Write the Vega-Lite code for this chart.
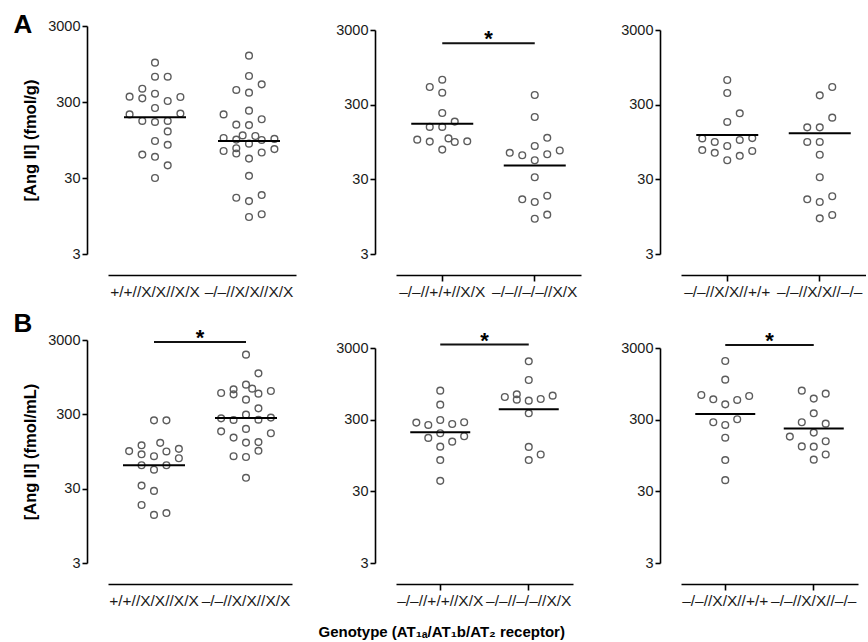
{
"$schema": "https://vega.github.io/schema/vega-lite/v6.json",
"background": "white",
"padding": {"left": 13, "top": 11, "right": 0, "bottom": 0},
"config": {
  "view": {"stroke": null},
  "font": "Liberation Sans",
  "axis": {"domainColor": "#000", "domainWidth": 1.6, "tickColor": "#000", "tickWidth": 1.6, "labelColor": "#1a1a1a", "labelFont": "Liberation Sans", "titleFont": "Liberation Sans", "titleColor": "#000", "titleFontWeight": "bold", "grid": false}
},
"datasets": {
  "a1": [
    {"g":"+/+//X/X//X/X","s":0,"v":988},{"g":"+/+//X/X//X/X","s":0,"v":646},{"g":"+/+//X/X//X/X","s":1,"v":646},{"g":"+/+//X/X//X/X","s":-1,"v":449},{"g":"+/+//X/X//X/X","s":-2,"v":353},{"g":"+/+//X/X//X/X","s":-1,"v":335},{"g":"+/+//X/X//X/X","s":0,"v":386},{"g":"+/+//X/X//X/X","s":1,"v":309},{"g":"+/+//X/X//X/X","s":2,"v":349},{"g":"+/+//X/X//X/X","s":0,"v":250},{"g":"+/+//X/X//X/X","s":-2,"v":206},{"g":"+/+//X/X//X/X","s":2,"v":211},{"g":"+/+//X/X//X/X","s":-1,"v":169},{"g":"+/+//X/X//X/X","s":0,"v":164},{"g":"+/+//X/X//X/X","s":1,"v":169},{"g":"+/+//X/X//X/X","s":1,"v":123},{"g":"+/+//X/X//X/X","s":0,"v":92},{"g":"+/+//X/X//X/X","s":1,"v":82},{"g":"+/+//X/X//X/X","s":-1,"v":61},{"g":"+/+//X/X//X/X","s":0,"v":57},{"g":"+/+//X/X//X/X","s":1,"v":44},{"g":"+/+//X/X//X/X","s":0,"v":30},
    {"g":"–/–//X/X//X/X","s":0,"v":1221},{"g":"–/–//X/X//X/X","s":0,"v":659},{"g":"–/–//X/X//X/X","s":1,"v":512},{"g":"–/–//X/X//X/X","s":-1,"v":432},{"g":"–/–//X/X//X/X","s":0,"v":398},{"g":"–/–//X/X//X/X","s":-2,"v":206},{"g":"–/–//X/X//X/X","s":0,"v":231},{"g":"–/–//X/X//X/X","s":-1,"v":151},{"g":"–/–//X/X//X/X","s":0,"v":149},{"g":"–/–//X/X//X/X","s":1,"v":178},{"g":"–/–//X/X//X/X","s":-2,"v":101},{"g":"–/–//X/X//X/X","s":-1,"v":96},{"g":"–/–//X/X//X/X","s":-0.5,"v":109},{"g":"–/–//X/X//X/X","s":0.5,"v":107},{"g":"–/–//X/X//X/X","s":1,"v":95},{"g":"–/–//X/X//X/X","s":2,"v":98},{"g":"–/–//X/X//X/X","s":0,"v":85},{"g":"–/–//X/X//X/X","s":-1,"v":74},{"g":"–/–//X/X//X/X","s":-2,"v":68},{"g":"–/–//X/X//X/X","s":-1,"v":63},{"g":"–/–//X/X//X/X","s":1,"v":65},{"g":"–/–//X/X//X/X","s":2,"v":72},{"g":"–/–//X/X//X/X","s":0,"v":54},{"g":"–/–//X/X//X/X","s":0,"v":32},{"g":"–/–//X/X//X/X","s":-1,"v":16.5},{"g":"–/–//X/X//X/X","s":0,"v":14.9},{"g":"–/–//X/X//X/X","s":1,"v":17.9},{"g":"–/–//X/X//X/X","s":0,"v":9.2},{"g":"–/–//X/X//X/X","s":1,"v":10}
  ],
  "a1m": [{"g":"+/+//X/X//X/X","v":189},{"g":"–/–//X/X//X/X","v":92}],
  "a2": [
    {"g":"–/–//+/+//X/X","s":0,"v":648},{"g":"–/–//+/+//X/X","s":-1,"v":517},{"g":"–/–//+/+//X/X","s":0,"v":434},{"g":"–/–//+/+//X/X","s":0,"v":232},{"g":"–/–//+/+//X/X","s":1,"v":178},{"g":"–/–//+/+//X/X","s":-1,"v":151},{"g":"–/–//+/+//X/X","s":0,"v":151},{"g":"–/–//+/+//X/X","s":-2,"v":102},{"g":"–/–//+/+//X/X","s":-1,"v":96},{"g":"–/–//+/+//X/X","s":0.5,"v":106},{"g":"–/–//+/+//X/X","s":1,"v":95},{"g":"–/–//+/+//X/X","s":2,"v":97},{"g":"–/–//+/+//X/X","s":0,"v":75},
    {"g":"–/–//–/–//X/X","s":0,"v":404},{"g":"–/–//–/–//X/X","s":0,"v":205},{"g":"–/–//–/–//X/X","s":1,"v":108},{"g":"–/–//–/–//X/X","s":0,"v":84},{"g":"–/–//–/–//X/X","s":-2,"v":68},{"g":"–/–//–/–//X/X","s":-1,"v":63},{"g":"–/–//–/–//X/X","s":1,"v":65},{"g":"–/–//–/–//X/X","s":2,"v":73},{"g":"–/–//–/–//X/X","s":0,"v":54},{"g":"–/–//–/–//X/X","s":0,"v":32},{"g":"–/–//–/–//X/X","s":-1,"v":16.2},{"g":"–/–//–/–//X/X","s":0,"v":14.9},{"g":"–/–//–/–//X/X","s":1,"v":18.1},{"g":"–/–//–/–//X/X","s":0,"v":8.9},{"g":"–/–//–/–//X/X","s":1,"v":10.1}
  ],
  "a2m": [{"g":"–/–//+/+//X/X","v":167},{"g":"–/–//–/–//X/X","v":46}],
  "a2s": [{"g1":"–/–//+/+//X/X","g2":"–/–//–/–//X/X","v":2000,"t":"*"}],
  "a3": [
    {"g":"–/–//X/X//+/+","s":0,"v":642},{"g":"–/–//X/X//+/+","s":0,"v":430},{"g":"–/–//X/X//+/+","s":1,"v":230},{"g":"–/–//X/X//+/+","s":0,"v":176},{"g":"–/–//X/X//+/+","s":-2,"v":106},{"g":"–/–//X/X//+/+","s":-1,"v":95},{"g":"–/–//X/X//+/+","s":1,"v":101},{"g":"–/–//X/X//+/+","s":2,"v":107},{"g":"–/–//X/X//+/+","s":-2,"v":74},{"g":"–/–//X/X//+/+","s":-1,"v":68},{"g":"–/–//X/X//+/+","s":0,"v":84},{"g":"–/–//X/X//+/+","s":1,"v":62},{"g":"–/–//X/X//+/+","s":2,"v":72},{"g":"–/–//X/X//+/+","s":0,"v":54},
    {"g":"–/–//X/X//–/–","s":1,"v":517},{"g":"–/–//X/X//–/–","s":0,"v":400},{"g":"–/–//X/X//–/–","s":1,"v":201},{"g":"–/–//X/X//–/–","s":-1,"v":149},{"g":"–/–//X/X//–/–","s":0,"v":149},{"g":"–/–//X/X//–/–","s":-1,"v":95},{"g":"–/–//X/X//–/–","s":0,"v":95},{"g":"–/–//X/X//–/–","s":0,"v":64},{"g":"–/–//X/X//–/–","s":0,"v":32},{"g":"–/–//X/X//–/–","s":-1,"v":16.2},{"g":"–/–//X/X//–/–","s":0,"v":14.9},{"g":"–/–//X/X//–/–","s":1,"v":17.8},{"g":"–/–//X/X//–/–","s":0,"v":9},{"g":"–/–//X/X//–/–","s":1,"v":10}
  ],
  "a3m": [{"g":"–/–//X/X//+/+","v":118},{"g":"–/–//X/X//–/–","v":124}],
  "b1": [
    {"g":"+/+//X/X//X/X","s":0,"v":249},{"g":"+/+//X/X//X/X","s":1,"v":249},{"g":"+/+//X/X//X/X","s":-2,"v":96},{"g":"+/+//X/X//X/X","s":-1,"v":115},{"g":"+/+//X/X//X/X","s":-1,"v":87},{"g":"+/+//X/X//X/X","s":0,"v":82},{"g":"+/+//X/X//X/X","s":0.5,"v":124},{"g":"+/+//X/X//X/X","s":1,"v":95},{"g":"+/+//X/X//X/X","s":2,"v":103},{"g":"+/+//X/X//X/X","s":2,"v":77},{"g":"+/+//X/X//X/X","s":-1,"v":62},{"g":"+/+//X/X//X/X","s":0,"v":54},{"g":"+/+//X/X//X/X","s":1,"v":62},{"g":"+/+//X/X//X/X","s":-1,"v":33},{"g":"+/+//X/X//X/X","s":0,"v":28},{"g":"+/+//X/X//X/X","s":-1,"v":18.1},{"g":"+/+//X/X//X/X","s":0,"v":13.3},{"g":"+/+//X/X//X/X","s":1,"v":14.1},
    {"g":"–/–//X/X//X/X","s":0,"v":1905},{"g":"–/–//X/X//X/X","s":1,"v":1068},{"g":"–/–//X/X//X/X","s":0,"v":752},{"g":"–/–//X/X//X/X","s":-1,"v":651},{"g":"–/–//X/X//X/X","s":-1,"v":557},{"g":"–/–//X/X//X/X","s":0.5,"v":665},{"g":"–/–//X/X//X/X","s":1,"v":569},{"g":"–/–//X/X//X/X","s":-2,"v":581},{"g":"–/–//X/X//X/X","s":2,"v":618},{"g":"–/–//X/X//X/X","s":0,"v":473},{"g":"–/–//X/X//X/X","s":1,"v":361},{"g":"–/–//X/X//X/X","s":-2,"v":265},{"g":"–/–//X/X//X/X","s":-1,"v":252},{"g":"–/–//X/X//X/X","s":0,"v":297},{"g":"–/–//X/X//X/X","s":1,"v":254},{"g":"–/–//X/X//X/X","s":2,"v":271},{"g":"–/–//X/X//X/X","s":-2,"v":177},{"g":"–/–//X/X//X/X","s":0,"v":191},{"g":"–/–//X/X//X/X","s":2,"v":167},{"g":"–/–//X/X//X/X","s":-1,"v":146},{"g":"–/–//X/X//X/X","s":1,"v":127},{"g":"–/–//X/X//X/X","s":0,"v":125},{"g":"–/–//X/X//X/X","s":1,"v":97},{"g":"–/–//X/X//X/X","s":-1,"v":82},{"g":"–/–//X/X//X/X","s":0,"v":80},{"g":"–/–//X/X//X/X","s":0,"v":42}
  ],
  "b1m": [{"g":"+/+//X/X//X/X","v":62},{"g":"–/–//X/X//X/X","v":268}],
  "b1s": [{"g1":"+/+//X/X//X/X","g2":"–/–//X/X//X/X","v":2820,"t":"*"}],
  "b2": [
    {"g":"–/–//+/+//X/X","s":0,"v":762},{"g":"–/–//+/+//X/X","s":0,"v":486},{"g":"–/–//+/+//X/X","s":-2,"v":273},{"g":"–/–//+/+//X/X","s":-1,"v":253},{"g":"–/–//+/+//X/X","s":0,"v":297},{"g":"–/–//+/+//X/X","s":1,"v":261},{"g":"–/–//+/+//X/X","s":2,"v":276},{"g":"–/–//+/+//X/X","s":0,"v":194},{"g":"–/–//+/+//X/X","s":-1,"v":167},{"g":"–/–//+/+//X/X","s":1,"v":148},{"g":"–/–//+/+//X/X","s":2,"v":176},{"g":"–/–//+/+//X/X","s":0,"v":126},{"g":"–/–//+/+//X/X","s":0,"v":82},{"g":"–/–//+/+//X/X","s":0,"v":42},
    {"g":"–/–//–/–//X/X","s":0,"v":1956},{"g":"–/–//–/–//X/X","s":0,"v":1074},{"g":"–/–//–/–//X/X","s":-2,"v":622},{"g":"–/–//–/–//X/X","s":-1,"v":678},{"g":"–/–//–/–//X/X","s":-1,"v":571},{"g":"–/–//–/–//X/X","s":0,"v":553},{"g":"–/–//–/–//X/X","s":1,"v":583},{"g":"–/–//–/–//X/X","s":2,"v":649},{"g":"–/–//–/–//X/X","s":0,"v":368},{"g":"–/–//–/–//X/X","s":0,"v":125},{"g":"–/–//–/–//X/X","s":0,"v":82},{"g":"–/–//–/–//X/X","s":1,"v":98}
  ],
  "b2m": [{"g":"–/–//+/+//X/X","v":200},{"g":"–/–//–/–//X/X","v":419}],
  "b2s": [{"g1":"–/–//+/+//X/X","g2":"–/–//–/–//X/X","v":3344,"t":"*"}],
  "b3": [
    {"g":"–/–//X/X//+/+","s":0,"v":1977},{"g":"–/–//X/X//+/+","s":0,"v":1085},{"g":"–/–//X/X//+/+","s":-2,"v":663},{"g":"–/–//X/X//+/+","s":-1,"v":577},{"g":"–/–//X/X//+/+","s":0,"v":491},{"g":"–/–//X/X//+/+","s":1,"v":565},{"g":"–/–//X/X//+/+","s":2,"v":642},{"g":"–/–//X/X//+/+","s":-1,"v":276},{"g":"–/–//X/X//+/+","s":0,"v":253},{"g":"–/–//X/X//+/+","s":1,"v":304},{"g":"–/–//X/X//+/+","s":0,"v":168},{"g":"–/–//X/X//+/+","s":0,"v":82},{"g":"–/–//X/X//+/+","s":0,"v":43},
    {"g":"–/–//X/X//–/–","s":-1,"v":762},{"g":"–/–//X/X//–/–","s":0,"v":590},{"g":"–/–//X/X//–/–","s":1,"v":692},{"g":"–/–//X/X//–/–","s":0,"v":368},{"g":"–/–//X/X//–/–","s":-1,"v":276},{"g":"–/–//X/X//–/–","s":1,"v":264},{"g":"–/–//X/X//–/–","s":0,"v":198},{"g":"–/–//X/X//–/–","s":-2,"v":174},{"g":"–/–//X/X//–/–","s":1,"v":150},{"g":"–/–//X/X//–/–","s":-1,"v":127},{"g":"–/–//X/X//–/–","s":0,"v":126},{"g":"–/–//X/X//–/–","s":1,"v":98},{"g":"–/–//X/X//–/–","s":0,"v":83}
  ],
  "b3m": [{"g":"–/–//X/X//+/+","v":360},{"g":"–/–//X/X//–/–","v":225}],
  "b3s": [{"g1":"–/–//X/X//+/+","g2":"–/–//X/X//–/–","v":3305,"t":"*"}]
},
"title": {"text": "Genotype (AT₁ₐ/AT₁b/AT₂ receptor)", "orient": "bottom", "anchor": "start", "frame": "group", "fontSize": 15, "fontWeight": "bold", "color": "#000", "baseline": "alphabetic", "offset": 28, "dx": 210.5},
"bounds": "flush",
"columns": 3,
"spacing": {"row": 86, "column": 100},
"resolve": {"scale": {"x": "independent", "y": "independent", "xOffset": "independent"}},
"concat": [
   {"width": 188, "height": 228,
    "title": {"text": "A", "anchor": "start", "frame": "group", "orient": "top", "fontSize": 26, "fontWeight": "bold", "color": "#000", "baseline": "alphabetic", "offset": 0, "dx": -94.5, "dy": 40.7},
    "layer": [
     {"data": {"name": "a1"}, "mark": {"type": "point", "shape": "circle", "filled": false, "size": 45, "color": "#5c5c5c", "strokeWidth": 1.4, "opacity": 1},
      "encoding": {
       "x": {"field": "g", "type": "nominal", "scale": {"domain": ["+/+//X/X//X/X", "–/–//X/X//X/X"], "paddingInner": 0, "paddingOuter": 0}, "axis": {"title": null, "offset": 21, "labelAngle": 0, "labelFontSize": 15.5, "labelPadding": 3, "tickSize": 6, "tickOpacity": 0, "labelOverlap": false}},
       "xOffset": {"field": "s", "type": "quantitative", "scale": {"domain": [-3.7, 3.7], "range": [0, 94]}},
       "y": {"field": "v", "type": "quantitative", "scale": {"type": "log", "domain": [3, 3000], "nice": false}, "axis": {"title": "[Ang II] (fmol/g)", "offset": 21, "values": [3, 30, 300, 3000], "format": "d", "tickSize": 5, "labelPadding": 2, "labelFontSize": 14.5, "titleFontSize": 16.5, "titlePadding": 9, "labelOverlap": false, "labelFlush": false, "labelBound": false}}}},
     {"data": {"name": "a1m"}, "mark": {"type": "tick", "size": 62, "thickness": 2, "color": "#000", "opacity": 1},
      "encoding": {"x": {"field": "g", "type": "nominal"}, "y": {"field": "v", "type": "quantitative"}}}
    ]},
   {"width": 185, "height": 228,
    "layer": [
     {"data": {"name": "a2"}, "mark": {"type": "point", "shape": "circle", "filled": false, "size": 45, "color": "#5c5c5c", "strokeWidth": 1.4, "opacity": 1},
      "encoding": {
       "x": {"field": "g", "type": "nominal", "scale": {"domain": ["–/–//+/+//X/X", "–/–//–/–//X/X"], "paddingInner": 0, "paddingOuter": 0}, "axis": {"title": null, "offset": 21, "labelAngle": 0, "labelFontSize": 15.5, "labelPadding": 3, "tickSize": 6, "labelOverlap": false}},
       "xOffset": {"field": "s", "type": "quantitative", "scale": {"domain": [-3.7, 3.7], "range": [0, 92.5]}},
       "y": {"field": "v", "type": "quantitative", "scale": {"type": "log", "domain": [3, 3000], "nice": false, "range": [228, 4]}, "axis": {"title": null, "offset": 21, "values": [3, 30, 300, 3000], "format": "d", "tickSize": 5, "labelPadding": 2, "labelFontSize": 14.5, "labelOverlap": false, "labelFlush": false, "labelBound": false}}}},
     {"data": {"name": "a2m"}, "mark": {"type": "tick", "size": 62, "thickness": 2, "color": "#000", "opacity": 1},
      "encoding": {"x": {"field": "g", "type": "nominal"}, "y": {"field": "v", "type": "quantitative"}}},
     {"data": {"name": "a2s"}, "mark": {"type": "rule", "color": "#111", "strokeWidth": 2},
      "encoding": {"x": {"field": "g1", "type": "nominal"}, "x2": {"field": "g2"}, "y": {"field": "v", "type": "quantitative"}}},
     {"data": {"name": "a2s"}, "mark": {"type": "text", "fontSize": 22, "fontWeight": "bold", "baseline": "alphabetic", "dy": 3, "color": "#000"},
      "encoding": {"x": {"field": "g1", "type": "nominal", "bandPosition": 1}, "y": {"field": "v", "type": "quantitative"}, "text": {"field": "t"}}}
    ]},
   {"width": 185, "height": 228,
    "layer": [
     {"data": {"name": "a3"}, "mark": {"type": "point", "shape": "circle", "filled": false, "size": 45, "color": "#5c5c5c", "strokeWidth": 1.4, "opacity": 1},
      "encoding": {
       "x": {"field": "g", "type": "nominal", "scale": {"domain": ["–/–//X/X//+/+", "–/–//X/X//–/–"], "paddingInner": 0, "paddingOuter": 0}, "axis": {"title": null, "offset": 21, "labelAngle": 0, "labelFontSize": 15.5, "labelPadding": 3, "tickSize": 6, "labelOverlap": false}},
       "xOffset": {"field": "s", "type": "quantitative", "scale": {"domain": [-3.7, 3.7], "range": [0, 92.5]}},
       "y": {"field": "v", "type": "quantitative", "scale": {"type": "log", "domain": [3, 3000], "nice": false, "range": [228, 4]}, "axis": {"title": null, "offset": 21, "values": [3, 30, 300, 3000], "format": "d", "tickSize": 5, "labelPadding": 2, "labelFontSize": 14.5, "labelOverlap": false, "labelFlush": false, "labelBound": false}}}},
     {"data": {"name": "a3m"}, "mark": {"type": "tick", "size": 62, "thickness": 2, "color": "#000", "opacity": 1},
      "encoding": {"x": {"field": "g", "type": "nominal"}, "y": {"field": "v", "type": "quantitative"}}}
    ]},
   {"width": 184, "height": 223,
    "title": {"text": "B", "anchor": "start", "frame": "group", "orient": "top", "fontSize": 26, "fontWeight": "bold", "color": "#000", "baseline": "alphabetic", "offset": 0, "dx": -94.5, "dy": 30.7},
    "layer": [
     {"data": {"name": "b1"}, "mark": {"type": "point", "shape": "circle", "filled": false, "size": 45, "color": "#5c5c5c", "strokeWidth": 1.4, "opacity": 1},
      "encoding": {
       "x": {"field": "g", "type": "nominal", "scale": {"domain": ["+/+//X/X//X/X", "–/–//X/X//X/X"], "paddingInner": 0, "paddingOuter": 0}, "axis": {"title": null, "offset": 21, "labelAngle": 0, "labelFontSize": 15.5, "labelPadding": 3, "tickSize": 6, "tickOpacity": 0, "labelOverlap": false}},
       "xOffset": {"field": "s", "type": "quantitative", "scale": {"domain": [-3.7, 3.7], "range": [0, 92]}},
       "y": {"field": "v", "type": "quantitative", "scale": {"type": "log", "domain": [3, 3000], "nice": false}, "axis": {"title": "[Ang II] (fmol/mL)", "offset": 21, "values": [3, 30, 300, 3000], "format": "d", "tickSize": 5, "labelPadding": 2, "labelFontSize": 14.5, "titleFontSize": 16.5, "titlePadding": 9, "labelOverlap": false, "labelFlush": false, "labelBound": false}}}},
     {"data": {"name": "b1m"}, "mark": {"type": "tick", "size": 62, "thickness": 2, "color": "#000", "opacity": 1},
      "encoding": {"x": {"field": "g", "type": "nominal"}, "y": {"field": "v", "type": "quantitative"}}},
     {"data": {"name": "b1s"}, "mark": {"type": "rule", "color": "#111", "strokeWidth": 2},
      "encoding": {"x": {"field": "g1", "type": "nominal"}, "x2": {"field": "g2"}, "y": {"field": "v", "type": "quantitative"}}},
     {"data": {"name": "b1s"}, "mark": {"type": "text", "fontSize": 22, "fontWeight": "bold", "baseline": "alphabetic", "dy": 3, "color": "#000"},
      "encoding": {"x": {"field": "g1", "type": "nominal", "bandPosition": 1}, "y": {"field": "v", "type": "quantitative"}, "text": {"field": "t"}}}
    ]},
   {"width": 177, "height": 223,
    "layer": [
     {"data": {"name": "b2"}, "mark": {"type": "point", "shape": "circle", "filled": false, "size": 45, "color": "#5c5c5c", "strokeWidth": 1.4, "opacity": 1},
      "encoding": {
       "x": {"field": "g", "type": "nominal", "scale": {"domain": ["–/–//+/+//X/X", "–/–//–/–//X/X"], "paddingInner": 0, "paddingOuter": 0}, "axis": {"title": null, "offset": 21, "labelAngle": 0, "labelFontSize": 15.5, "labelPadding": 3, "tickSize": 6, "labelOverlap": false}},
       "xOffset": {"field": "s", "type": "quantitative", "scale": {"domain": [-3.7, 3.7], "range": [0, 88.5]}},
       "y": {"field": "v", "type": "quantitative", "scale": {"type": "log", "domain": [3, 3000], "nice": false, "range": [223, 8]}, "axis": {"title": null, "offset": 21, "values": [3, 30, 300, 3000], "format": "d", "tickSize": 5, "labelPadding": 2, "labelFontSize": 14.5, "labelOverlap": false, "labelFlush": false, "labelBound": false}}}},
     {"data": {"name": "b2m"}, "mark": {"type": "tick", "size": 60, "thickness": 2, "color": "#000", "opacity": 1},
      "encoding": {"x": {"field": "g", "type": "nominal"}, "y": {"field": "v", "type": "quantitative"}}},
     {"data": {"name": "b2s"}, "mark": {"type": "rule", "color": "#111", "strokeWidth": 2},
      "encoding": {"x": {"field": "g1", "type": "nominal"}, "x2": {"field": "g2"}, "y": {"field": "v", "type": "quantitative"}}},
     {"data": {"name": "b2s"}, "mark": {"type": "text", "fontSize": 22, "fontWeight": "bold", "baseline": "alphabetic", "dy": 3, "color": "#000"},
      "encoding": {"x": {"field": "g1", "type": "nominal", "bandPosition": 1}, "y": {"field": "v", "type": "quantitative"}, "text": {"field": "t"}}}
    ]},
   {"width": 177, "height": 223,
    "layer": [
     {"data": {"name": "b3"}, "mark": {"type": "point", "shape": "circle", "filled": false, "size": 45, "color": "#5c5c5c", "strokeWidth": 1.4, "opacity": 1},
      "encoding": {
       "x": {"field": "g", "type": "nominal", "scale": {"domain": ["–/–//X/X//+/+", "–/–//X/X//–/–"], "paddingInner": 0, "paddingOuter": 0}, "axis": {"title": null, "offset": 21, "labelAngle": 0, "labelFontSize": 15.5, "labelPadding": 3, "tickSize": 6, "labelOverlap": false}},
       "xOffset": {"field": "s", "type": "quantitative", "scale": {"domain": [-3.7, 3.7], "range": [0, 88.5]}},
       "y": {"field": "v", "type": "quantitative", "scale": {"type": "log", "domain": [3, 3000], "nice": false, "range": [223, 8]}, "axis": {"title": null, "offset": 21, "values": [3, 30, 300, 3000], "format": "d", "tickSize": 5, "labelPadding": 2, "labelFontSize": 14.5, "labelOverlap": false, "labelFlush": false, "labelBound": false}}}},
     {"data": {"name": "b3m"}, "mark": {"type": "tick", "size": 60, "thickness": 2, "color": "#000", "opacity": 1},
      "encoding": {"x": {"field": "g", "type": "nominal"}, "y": {"field": "v", "type": "quantitative"}}},
     {"data": {"name": "b3s"}, "mark": {"type": "rule", "color": "#111", "strokeWidth": 2},
      "encoding": {"x": {"field": "g1", "type": "nominal"}, "x2": {"field": "g2"}, "y": {"field": "v", "type": "quantitative"}}},
     {"data": {"name": "b3s"}, "mark": {"type": "text", "fontSize": 22, "fontWeight": "bold", "baseline": "alphabetic", "dy": 3, "color": "#000"},
      "encoding": {"x": {"field": "g1", "type": "nominal", "bandPosition": 1}, "y": {"field": "v", "type": "quantitative"}, "text": {"field": "t"}}}
    ]}
]
}
